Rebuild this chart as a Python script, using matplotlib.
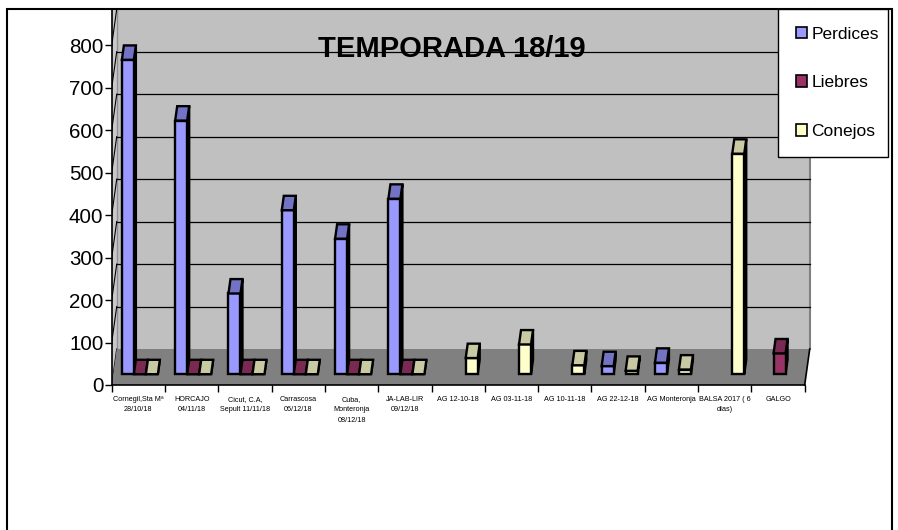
import numpy as np
import matplotlib.pyplot as plt
from matplotlib.patches import Polygon, Patch, Rectangle

plt.rcParams['font.family'] = ['Liberation Sans', 'DejaVu Sans']

categories = [
    "Cornegil,Sta Mª\n28/10/18",
    "HORCAJO\n04/11/18",
    "Cicut, C.A,\nSepult 11/11/18",
    "Carrascosa\n06/12/18",
    "Cuba,\nMonteronja\n08/12/18",
    "JA-LAB-LIR\n09/12/18",
    "AG 12-10-18",
    "AG 03-11-18",
    "AG 10-11-18",
    "AG 22-12-18",
    "AG Monteronja",
    "BALSA 2017 ( 6\ndías)",
    "GALGO",
]
nan = np.nan
perdices = [740, 597, 190, 386, 319, 413, nan, nan, nan, 19, 27, nan, nan]
liebres = [0, 0, 0, 0, 0, 0, nan, nan, nan, nan, nan, nan, 49]
conejos = [0, 0, 0, 0, 0, 0, 38, 70, 21, 8, 11, 519, nan]
series_names = ["Perdices", "Liebres", "Conejos"]
yticks = list(range(0, 801, 100))

front_colors = ["#9999FF", "#993366", "#FFFFCC"]
top_colors = ["#7373C6", "#7A2952", "#C9C9A3"]
side_colors = ["#5C5C99", "#5C1F3D", "#99997A"]

fig = plt.figure(figsize=(8.98, 5.30), dpi=100)
ax = fig.add_axes([0.1244, 0.2736, 0.7717, 0.7094])
ymax = 885
n = len(categories)
ax.set_xlim(-0.5, n - 0.5)
ax.set_ylim(0, ymax)

# fake 3d depth of the floor, in data units
dx, dy = 0.094, 84.7
xl, xr = -0.5, n - 0.5

# walls and floor
ax.add_patch(Polygon([(xl + dx, dy), (xr + dx, dy), (xr + dx, ymax), (xl + dx, ymax)],
                     fc="#C0C0C0", ec="none", zorder=0, clip_on=False))
ax.plot([xr + dx, xr + dx], [dy, ymax], color="#808080", lw=1.5, zorder=0.5, clip_on=False)
ax.add_patch(Polygon([(xl, 0), (xl, ymax), (xl + dx, ymax), (xl + dx, dy)],
                     fc="#C8C8C8", ec="none", zorder=0))
ax.add_patch(Polygon([(xl, 0), (xr, 0), (xr + dx, dy), (xl + dx, dy)],
                     fc="#808080", ec="none", zorder=1, clip_on=False))
ax.plot([xr, xr + dx], [0, dy], color="black", lw=1.2, zorder=1.5, clip_on=False)
ax.plot([xl + dx, xl + dx], [dy, ymax], color="#909090", lw=1, zorder=0.6)

for v in yticks:
    ax.plot([xl, xl + dx], [v, v + dy], color="black", lw=0.8, zorder=0.7)
    if 0 < v and v + dy < ymax - 1:
        ax.plot([xl + dx, xr + dx], [v + dy, v + dy], color="black", lw=0.9,
                zorder=0.7, clip_on=False)

# bars
w = 0.225
offsets = [-w, 0, w]
base = 0.3 * dy
xs = 0.3 * dx
bdx, bdy = 0.4 * dx, 0.4 * dy
idx = np.arange(n)
for s, vals in enumerate([perdices, liebres, conejos]):
    vals = np.array(vals, dtype=float)
    ok = ~np.isnan(vals)
    xc = idx[ok] + offsets[s] + xs
    bars = ax.bar(xc, vals[ok], width=w, bottom=base, color=front_colors[s],
                  edgecolor="black", lw=1.7)
    for k, (x, v, rect) in enumerate(zip(xc, vals[ok], bars)):
        z = 3 + 0.1 * (idx[ok][k] * 3 + s)
        rect.set_zorder(z)
        x0, x1 = x - w / 2, x + w / 2
        ax.add_patch(Polygon([(x1, base), (x1, base + v), (x1 + bdx, base + v + bdy), (x1 + bdx, base + bdy)],
                             fc=side_colors[s], ec="black", lw=1.7, zorder=z - 0.01))
        ax.add_patch(Polygon([(x0, base + v), (x1, base + v), (x1 + bdx, base + v + bdy), (x0 + bdx, base + v + bdy)],
                             fc=top_colors[s], ec="black", lw=1.7, zorder=z + 0.01))

# axes styling
ax.set_xticks(idx)
ax.set_xticklabels(categories, fontsize=5.2, linespacing=1.65)
ax.set_xticks(np.arange(-0.5, n), minor=True)
ax.tick_params(axis="x", which="major", length=0, pad=8)
ax.tick_params(axis="x", which="minor", length=5, width=1)
ax.set_yticks(yticks)
ax.tick_params(axis="y", labelsize=14.8, length=5, width=1, pad=1)
for side in ["top", "right"]:
    ax.spines[side].set_visible(False)
ax.spines["left"].set_linewidth(1.2)
ax.spines["bottom"].set_linewidth(1.2)

fig.text(451.5 / 898, 1 - 56.7 / 530, "TEMPORADA 18/19", ha="center", va="baseline",
         fontsize=21, fontweight="bold")

handles = [Patch(fc=c, ec="black", lw=1.2) for c in front_colors]
leg = fig.legend(handles, series_names, loc="upper left", mode="expand",
                 bbox_to_anchor=(778 / 898, 1 - 154 / 530, 110 / 898, 145 / 530),
                 fontsize=12.5, fancybox=False, edgecolor="black", framealpha=1,
                 labelspacing=1.94, borderpad=1.02, handlelength=0.65,
                 handleheight=0.65, handletextpad=0.25, borderaxespad=0)
leg.get_frame().set_linewidth(1)

fig.add_artist(Rectangle((7 / 898, -0.05), (892 - 7) / 898, 1 - 9 / 530 + 0.05,
                         transform=fig.transFigure, fill=False, ec="black", lw=1.5))

fig.savefig("out.png", dpi=100, facecolor="white")
